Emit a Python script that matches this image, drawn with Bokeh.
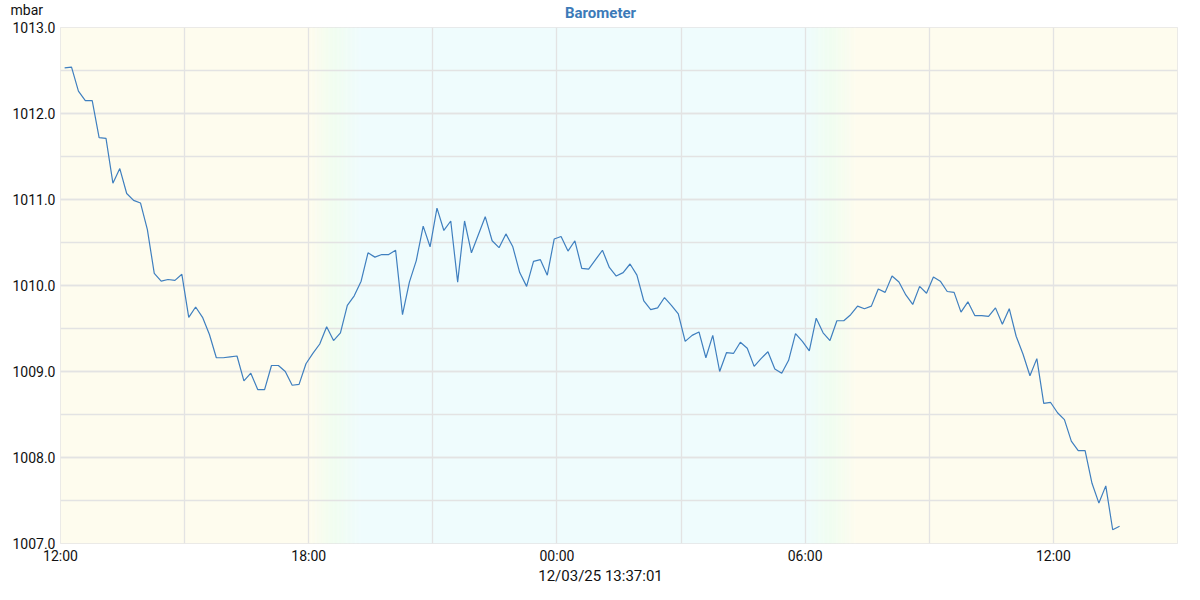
import numpy as np
import pandas as pd
from bokeh.plotting import figure
from bokeh.models import (Label, Title, FixedTicker, SingleIntervalTicker, DatetimeTickFormatter,
                          PrintfTickFormatter, Range1d, ColumnDataSource)
from bokeh.embed import file_html
from bokeh.resources import INLINE

# ---------------- data ----------------
title_text = "Barometer"
unit_text = "mbar"
footer_text = "12/03/25 13:37:01"

first_time = "2025-03-11 12:06"
n_slots = 154            # 10-minute readings
missing_slot = 60        # one reading absent
pressure = [
    1012.53, 1012.54, 1012.26, 1012.15, 1012.15, 1011.72, 1011.71, 1011.19, 1011.36, 1011.07,
    1010.99, 1010.96, 1010.65, 1010.14, 1010.05, 1010.07, 1010.06, 1010.13, 1009.63, 1009.75,
    1009.63, 1009.43, 1009.16, 1009.16, 1009.17, 1009.18, 1008.89, 1008.98, 1008.79, 1008.79,
    1009.07, 1009.07, 1009.00, 1008.84, 1008.85, 1009.09, 1009.21, 1009.32, 1009.52, 1009.36,
    1009.45, 1009.77, 1009.88, 1010.05, 1010.38, 1010.33, 1010.36, 1010.36, 1010.41, 1009.66,
    1010.04, 1010.29, 1010.69, 1010.45, 1010.90, 1010.64, 1010.75, 1010.04, 1010.75, 1010.38,
    1010.80, 1010.52, 1010.44, 1010.60, 1010.45, 1010.15, 1009.99, 1010.28, 1010.30,
    1010.12, 1010.54, 1010.57, 1010.40, 1010.52, 1010.20, 1010.19, 1010.30, 1010.41, 1010.21,
    1010.11, 1010.15, 1010.25, 1010.12, 1009.82, 1009.72, 1009.74, 1009.86, 1009.77, 1009.67,
    1009.35, 1009.42, 1009.46, 1009.16, 1009.42, 1009.00, 1009.22, 1009.21, 1009.34, 1009.27,
    1009.06, 1009.15, 1009.23, 1009.03, 1008.98, 1009.13, 1009.44, 1009.35, 1009.24, 1009.62,
    1009.45, 1009.36, 1009.59, 1009.59, 1009.66, 1009.76, 1009.73, 1009.76, 1009.96, 1009.92,
    1010.11, 1010.04, 1009.89, 1009.78, 1009.99, 1009.91, 1010.10, 1010.05, 1009.93, 1009.92,
    1009.69, 1009.81, 1009.65, 1009.65, 1009.64, 1009.74, 1009.55, 1009.73, 1009.41, 1009.20,
    1008.95, 1009.15, 1008.63, 1008.64, 1008.52, 1008.44, 1008.19, 1008.08, 1008.08, 1007.70,
    1007.47, 1007.67, 1007.16, 1007.20,
]
times = pd.date_range(first_time, periods=n_slots, freq="10min").delete(missing_slot)

x_start = pd.Timestamp("2025-03-11 12:00")
x_end = pd.Timestamp("2025-03-12 15:00")
y_min, y_max = 1007.0, 1013.0

# day/night shading periods
dusk_start, dusk_end = pd.Timestamp("2025-03-11 18:00"), pd.Timestamp("2025-03-11 19:15")
dawn_start, dawn_end = pd.Timestamp("2025-03-12 06:00"), pd.Timestamp("2025-03-12 07:15")

DAY = (254, 252, 238)
TWI = (240, 253, 240)
NIGHT = (239, 252, 253)

# ---------------- figure ----------------
W, H = 1184, 584
p = figure(width=W, height=H, x_axis_type="datetime", output_backend="svg",
           toolbar_location=None,
           x_range=Range1d(x_start, x_end), y_range=Range1d(y_min, y_max),
           min_border_left=60, min_border_right=7, min_border_top=27, min_border_bottom=38)
p.background_fill_color = "white"
p.border_fill_color = "white"
p.outline_line_color = "#e4e4e4"
p.outline_line_width = 1


def hexc(c):
    return "#%02x%02x%02x" % tuple(int(round(v)) for v in c)


def mix(a, b, t):
    return tuple(a[i] + (b[i] - a[i]) * t for i in range(3))


lefts, rights, colors = [], [], []
lefts += [x_start]; rights += [dusk_start]; colors += [hexc(DAY)]


def gradient(t0, t1, c0, c1, c2, n=40):
    L, R, C = [], [], []
    span = (t1 - t0)
    for k in range(n):
        a = t0 + span * (k / n)
        b = t0 + span * ((k + 1) / n) + pd.Timedelta(seconds=30)
        f = (k + 0.5) / n
        if f < 0.5:
            col = mix(c0, c1, f / 0.5)
        else:
            col = mix(c1, c2, (f - 0.5) / 0.5)
        L.append(a); R.append(b); C.append(hexc(col))
    return L, R, C


L, R, C = gradient(dusk_start, dusk_end, DAY, TWI, NIGHT)
lefts += L; rights += R; colors += C
lefts += [dusk_end]; rights += [dawn_start]; colors += [hexc(NIGHT)]
L, R, C = gradient(dawn_start, dawn_end, NIGHT, TWI, DAY)
lefts += L; rights += R; colors += C
lefts += [dawn_end]; rights += [x_end]; colors += [hexc(DAY)]

bg = ColumnDataSource(dict(left=lefts, right=rights, color=colors))
r_bg = p.quad(left="left", right="right", bottom=y_min, top=y_max, fill_color="color",
              line_color=None, source=bg)
r_bg.level = "image"

p.line(x=times, y=pressure, line_color="#3f7fbf", line_width=1.2)

# grid
p.xgrid.ticker = FixedTicker(ticks=[(x_start + pd.Timedelta(hours=h)).value / 1e6 for h in range(0, 28, 3)])
p.xgrid.grid_line_color = "#e3e3e3"
p.xgrid.grid_line_width = 1.3
p.ygrid.grid_line_color = "#e3e3e3"
p.ygrid.grid_line_width = 1.3
p.ygrid.minor_grid_line_color = "#e3e3e3"
p.ygrid.minor_grid_line_width = 1.3

# axes
p.xaxis.ticker = FixedTicker(ticks=[(x_start + pd.Timedelta(hours=h)).value / 1e6 for h in range(0, 28, 6)])
fmt = "%H:%M"
p.xaxis.formatter = DatetimeTickFormatter(seconds=fmt, minsec=fmt, minutes=fmt, hourmin=fmt,
                                          hours=fmt, days=fmt, months=fmt, years=fmt)
p.yaxis.ticker = SingleIntervalTicker(interval=1.0, num_minor_ticks=2)
p.yaxis.formatter = PrintfTickFormatter(format="%.1f")
for ax in (p.xaxis[0], p.yaxis[0]):
    ax.axis_line_color = None
    ax.major_tick_line_color = None
    ax.minor_tick_line_color = None
    ax.major_tick_out = 0
    ax.minor_tick_out = 0
    ax.major_tick_in = 0
    ax.minor_tick_in = 0
    ax.major_label_text_font = "Roboto"
    ax.major_label_text_font_size = "14px"
    ax.major_label_text_color = "#111111"
p.xaxis.major_label_standoff = 4
p.yaxis.major_label_standoff = 5

# texts outside the frame
p.add_layout(Label(x=600, y=12, x_units="canvas", y_units="canvas", text=title_text,
                   text_font="Roboto", text_font_size="15px", text_font_style="bold",
                   text_color="#3c7ab8", text_align="center", text_baseline="middle"), "above")
p.add_layout(Title(text=unit_text, align="left", offset=-50, vertical_align="middle",
                   standoff=-18, text_font="Roboto", text_font_size="14px",
                   text_font_style="normal", text_color="#111111"), "above")
p.add_layout(Label(x=600, y=575, x_units="canvas", y_units="canvas", text=footer_text,
                   text_font="Roboto", text_font_size="15px", text_color="#111111",
                   text_align="center", text_baseline="middle"), "below")

open("out.html", "w").write(file_html(p, INLINE))
